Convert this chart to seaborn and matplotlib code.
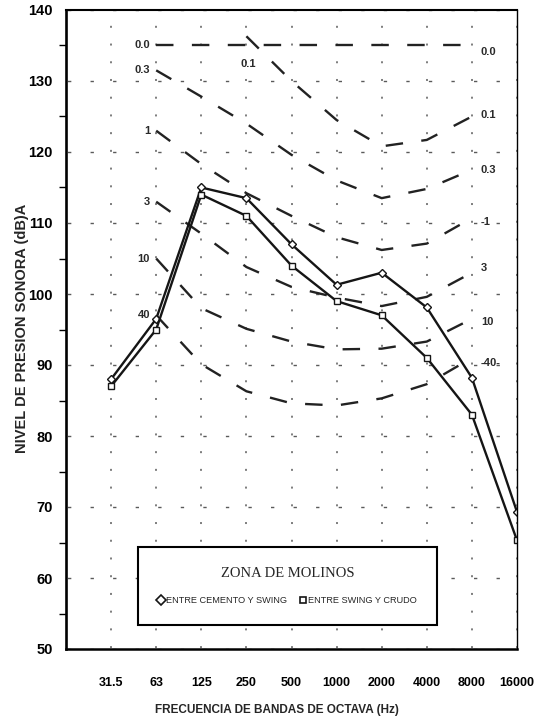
import numpy as np
import pandas as pd
import matplotlib
matplotlib.use("Agg")
import matplotlib.pyplot as plt
import seaborn as sns
from matplotlib.lines import Line2D

# ---------------- data ----------------
freq_labels = ["31.5", "63", "125", "250", "500", "1000", "2000", "4000", "8000", "16000"]
series_names = ["ENTRE CEMENTO Y SWING", "ENTRE SWING Y CRUDO"]
cemento_swing = [88, 96.5, 115, 113.5, 107, 101.3, 103, 98.1, 88.2, 69.3]
swing_crudo = [87, 95, 114, 111, 104, 99, 97, 91, 83, 65.3]

# reference curves (start at the given frequency label, run to 8000 Hz)
curve_labels = ["0.0", "0.1", "0.3", "1", "3", "10", "40"]
curve_start = ["63", "250", "63", "63", "63", "63", "63"]
curve_00 = [135, 135, 135, 135, 135, 135, 135, 135]
curve_01 = [136.3, 130, 124.5, 120.8, 121.7, 125]
curve_03 = [131.5, 127.8, 124, 119.6, 116, 113.5, 114.8, 117.5]
curve_1 = [123, 118.3, 114.2, 111, 108, 106.2, 107.1, 110.7]
curve_3 = [113, 108.5, 103.8, 101, 99.5, 98.3, 99.6, 103]
curve_10 = [105, 98, 95.1, 93.3, 92.2, 92.3, 93.3, 96.5]
curve_40 = [97, 90.1, 86.3, 84.6, 84.3, 85.3, 87.3, 91]
curve_values = [curve_00, curve_01, curve_03, curve_1, curve_3, curve_10, curve_40]

# curve annotations
right_labels = ["0.0", "0.1", "0.3", "-1", "3", "10", "-40-"]
right_label_y = [134.1, 125.2, 117.4, 110.2, 103.7, 96.1, 90.3]

title_legend = "ZONA DE MOLINOS"
xlabel = "FRECUENCIA DE BANDAS DE OCTAVA (Hz)"
ylabel = "NIVEL DE PRESION SONORA (dB)A"

# ---------------- style ----------------
sns.set_theme(style="white")
plt.rcParams["font.family"] = ["Liberation Sans", "DejaVu Sans"]

W, H = 544, 723
fig = plt.figure(figsize=(W / 100, H / 100), dpi=100)
L, R, T, B = 66, 517, 10, 649
ax = fig.add_axes([L / W, 1 - B / H, (R - L) / W, (B - T) / H])

pos = np.arange(1, len(freq_labels) + 1)
ink = "#151515"

# reference dashed curves
for name, start, vals in zip(curve_labels, curve_start, curve_values):
    i0 = freq_labels.index(start)
    xs = pos[i0:i0 + len(vals)]
    sns.lineplot(x=xs, y=vals, ax=ax, color="#222222", linewidth=1.7,
                 linestyle=(0, (7.4, 7.8)), legend=False)

# measured series
df = pd.DataFrame({
    "pos": np.concatenate([pos, pos]),
    "nivel": cemento_swing + swing_crudo,
    "serie": [series_names[0]] * len(pos) + [series_names[1]] * len(pos),
})
markers = {series_names[0]: "D", series_names[1]: "s"}
for s in series_names:
    sub = df[df["serie"] == s]
    sns.lineplot(data=sub, x="pos", y="nivel", ax=ax, color=ink, linewidth=1.7,
                 marker=markers[s], markersize=4.3, markerfacecolor="white",
                 markeredgecolor=ink, markeredgewidth=1.0, legend=False)

# curve labels
lab_kw = dict(fontsize=8, fontweight="bold", color="#2a2a2a", va="center")
for name, start, vals in zip(curve_labels, curve_start, curve_values):
    if start == "63":
        ax.text(1.86, vals[0], name, ha="right", **lab_kw)
    else:
        ax.text(pos[freq_labels.index(start)] + 0.04, vals[0] - 3.9, name, ha="center", **lab_kw)
for name, yv in zip(right_labels, right_label_y):
    ax.text(9.2, yv, name, ha="left", **lab_kw)

# axes
ax.set_xlim(0, 10)
ax.set_ylim(50, 140)
ax.set_xticks(np.arange(0, 11))
ax.set_xticklabels([""] + freq_labels, fontsize=9, fontweight="bold")
ax.set_yticks(np.arange(50, 141, 10))
ax.set_yticks(np.arange(55, 140, 10), minor=True)
ax.set_yticklabels([str(v) for v in range(50, 141, 10)], fontsize=10.5, fontweight="bold")
ax.tick_params(axis="x", which="major", direction="out", length=9, width=1.3, pad=11, colors="black")
ax.tick_params(axis="y", which="major", direction="inout", length=13, width=1.2, pad=3, colors="black")
ax.tick_params(axis="y", which="minor", direction="out", length=5, width=1.0, colors="black", left=True)

# dotted grid
ax.grid(axis="x", which="major", color="#5a5a5a", linewidth=1.1,
        linestyle=(11.0, (1.3, 10.3)))
ax.grid(axis="y", which="major", color="#5a5a5a", linewidth=1.0,
        linestyle=(15.16, (2.4, 13.84)))

for side, lw in [("left", 1.9), ("bottom", 1.8), ("top", 1.5), ("right", 1.0)]:
    ax.spines[side].set_visible(True)
    ax.spines[side].set_color("black")
    ax.spines[side].set_linewidth(lw)

ax.set_xlabel(xlabel, fontsize=8.5, fontweight="bold")
ax.xaxis.label.set_va("center")
ax.xaxis.set_label_coords((277 - L) / (R - L), -(710 - B) / (B - T))
ax.set_ylabel(ylabel, fontsize=10.5, fontweight="bold")
ax.yaxis.label.set_va("center")
ax.yaxis.set_label_coords(-(L - 22) / (R - L), (B - 328) / (B - T))

# legend
handles = [Line2D([], [], linestyle="none", marker=markers[s], markersize=5,
                  markerfacecolor="white", markeredgecolor=ink, markeredgewidth=1.2)
           for s in series_names]
leg = ax.legend(handles=handles, labels=series_names, title=title_legend, ncol=2,
                loc="lower left",
                bbox_to_anchor=((133 - L) / (R - L), (B - 630) / (B - T), (442 - 133) / (R - L), 0),
                mode="expand", frameon=True, fancybox=False, framealpha=1,
                edgecolor="black", borderpad=2.25, labelspacing=1.7,
                handlelength=0.7, handletextpad=0.15, columnspacing=1.6,
                prop={"family": "Liberation Sans", "size": 6.6},
                title_fontproperties={"family": "Liberation Serif", "size": 10.5})
leg.get_frame().set_linewidth(1.5)

fig.savefig("out.png", dpi=100, facecolor="white")
